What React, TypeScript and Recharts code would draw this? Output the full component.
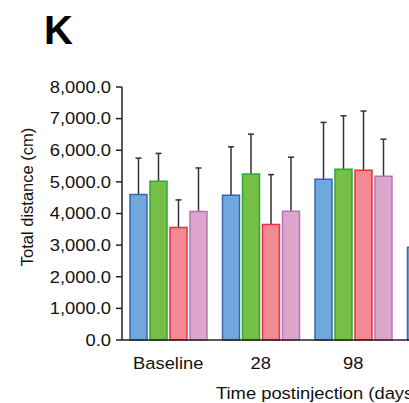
import React from "react";
import { BarChart, Bar, XAxis, YAxis, Rectangle } from "recharts";

const categories = ["Baseline", "28", "98", "168"];
const seriesA = [4600, 4580, 5080, 2930];
const seriesB = [5020, 5250, 5400, 3300];
const seriesC = [3560, 3650, 5370, 3100];
const seriesD = [4060, 4070, 5180, 3200];
const errA = [1150, 1530, 1800, 900];
const errB = [880, 1260, 1690, 900];
const errC = [870, 1580, 1870, 900];
const errD = [1380, 1710, 1170, 900];
const yTicks = [0, 1000, 2000, 3000, 4000, 5000, 6000, 7000, 8000];

const data = categories.map((c, i) => ({
  cat: c,
  a: seriesA[i],
  b: seriesB[i],
  c: seriesC[i],
  d: seriesD[i],
  ea: errA[i],
  eb: errB[i],
  ec: errC[i],
  ed: errD[i],
}));

const FONT = "'Liberation Sans', Arial, Helvetica, sans-serif";
const SX = 1.08;

const series = [
  { key: "a", err: "ea", fill: "#6fa8dc", stroke: "#3d63b0" },
  { key: "b", err: "eb", fill: "#74bf44", stroke: "#2fa83a" },
  { key: "c", err: "ec", fill: "#f28a94", stroke: "#e8323c" },
  { key: "d", err: "ed", fill: "#dca6cc", stroke: "#b873b4" },
];

const fmt = (v: number) =>
  v.toLocaleString("en-US", { minimumFractionDigits: 1, maximumFractionDigits: 1 });

const stretch = (x: number) => `translate(${x},0) scale(${SX},1) translate(${-x},0)`;

const YTick = (p: any) => (
  <text
    x={p.x}
    y={p.y}
    textAnchor="end"
    dominantBaseline="central"
    fontSize={17}
    fontFamily={FONT}
    fill="#111"
    transform={stretch(p.x)}
  >
    {fmt(p.payload.value)}
  </text>
);

const XTick = (p: any) => (
  <text
    x={p.x}
    y={p.y}
    dy="0.71em"
    textAnchor="middle"
    fontSize={17}
    fontFamily={FONT}
    fill="#111"
    transform={stretch(p.x)}
  >
    {p.payload.value}
  </text>
);

const makeShape = (errKey: string) => (props: any) => {
  const { x, y, width, height, value, payload, fill, stroke } = props;
  const v = Array.isArray(value) ? value[1] - value[0] : value;
  const err = payload[errKey];
  const errPx = v ? (err / v) * height : 0;
  const cx = x + width / 2;
  return (
    <g>
      <line x1={cx} y1={y} x2={cx} y2={y - errPx} stroke="#333" strokeWidth={1.5} />
      <line x1={cx - 3} y1={y - errPx} x2={cx + 3} y2={y - errPx} stroke="#333" strokeWidth={1.5} />
      <Rectangle x={x} y={y} width={width} height={height} fill={fill} stroke={stroke} strokeWidth={1.5} />
    </g>
  );
};

export default function App() {
  return (
    <div
      style={{
        position: "fixed",
        left: 0,
        top: 0,
        width: 409,
        height: 403,
        overflow: "hidden",
        background: "#fff",
        fontFamily: FONT,
      }}
    >
      <div
        style={{
          position: "absolute",
          left: 44,
          top: 7,
          fontSize: 40,
          fontWeight: "bold",
          fontFamily: FONT,
          lineHeight: "46px",
          color: "#000",
        }}
      >
        K
      </div>
      <BarChart
        width={502}
        height={403}
        data={data}
        margin={{ top: 87, right: 10, bottom: 23, left: 0 }}
        barSize={17}
        barGap={3}
      >
        <YAxis
          width={122}
          domain={[0, 8000]}
          ticks={yTicks}
          tickSize={6}
          tickMargin={5}
          axisLine={{ stroke: "#222", strokeWidth: 1.5 }}
          tickLine={{ stroke: "#222", strokeWidth: 1.5 }}
          tick={YTick}
          label={{
            content: (props: any) => {
              const vb = props.viewBox || { x: 0 };
              const cx = vb.x + 27;
              const cy = 197;
              return (
                <text
                  x={cx}
                  y={cy}
                  transform={`rotate(-90, ${cx}, ${cy})`}
                  textAnchor="middle"
                  dominantBaseline="central"
                  fontSize={16.5}
                  fontFamily={FONT}
                  fill="#111"
                >
                  Total distance (cm)
                </text>
              );
            },
          }}
        />
        <XAxis
          dataKey="cat"
          height={40}
          tickLine={false}
          tickSize={15}
          tickMargin={2}
          axisLine={{ stroke: "#222", strokeWidth: 1.5 }}
          tick={XTick}
          label={{
            content: (props: any) => {
              const vb = props.viewBox || { x: 122 };
              const sx = vb.x + 94;
              return (
                <text
                  x={sx}
                  y={399}
                  textAnchor="start"
                  fontSize={17}
                  fontFamily={FONT}
                  fill="#111"
                  transform={stretch(sx)}
                >
                  Time postinjection (days)
                </text>
              );
            },
          }}
        />
        {series.map((s) => (
          <Bar
            key={s.key}
            dataKey={s.key}
            fill={s.fill}
            stroke={s.stroke}
            strokeWidth={1.5}
            shape={makeShape(s.err)}
            isAnimationActive={false}
          />
        ))}
      </BarChart>
    </div>
  );
}
